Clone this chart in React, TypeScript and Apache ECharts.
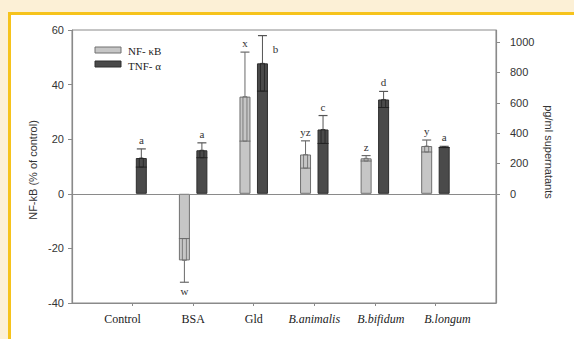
import React, { useEffect, useRef } from "react";
import * as echarts from "echarts";

const categories = ["Control", "BSA", "Gld", "B.animalis", "B.bifidum", "B.longum"];
const italicCats = ["B.animalis", "B.bifidum", "B.longum"];
const nfkb = [0, -24.4, 35.6, 14.4, 13, 17.5];
const nfkbErr = [0, 8, 16.3, 5, 1, 2.2];
const nfkbLetters = ["", "w", "x", "yz", "z", "y"];
const tnf = [236, 287, 860, 424, 622, 309];
const tnfErr = [60, 49, 183, 92, 53, 4];
const tnfLetters = ["a", "a", "b", "c", "d", "a"];
const leftTicks = [-40, -20, 0, 20, 40, 60];
const rightTicks = [0, 200, 400, 600, 800, 1000];

const LIGHT = "#c6c6c6";
const DARK = "#4a4a4a";
const BAR_W = 11;
const OFFSET = 8.75;
const GRID_TOP = 30;
const SANS = "'Liberation Sans', Arial, sans-serif";
const SERIF = "'Liberation Serif', serif";
// horizontal label nudges (px) as in the original figure
const labelShift: Record<string, number> = { Control: -10, "B.bifidum": 6, "B.longum": 12 };

function errorSeries(
  name: string,
  vals: number[],
  errs: number[],
  letters: string[],
  yAxisIndex: number,
  offset: number,
  color: string,
  innerColor: string
) {
  return {
    type: "custom",
    name,
    xAxisIndex: 0,
    yAxisIndex,
    silent: true,
    z: 5,
    data: vals.map((v, i) => [i + 1, v, errs[i]]),
    renderItem: (params: any, api: any) => {
      const idx = api.value(0);
      const mean = api.value(1);
      const err = api.value(2);
      const i = params.dataIndex;
      const letter = letters[i];
      const d = mean >= 0 ? 1 : -1;
      const pMean = api.coord([idx, mean]);
      const cx = pMean[0] + offset;
      const children: any[] = [];
      let labelY = pMean[1];
      if (err > 0 && mean !== 0) {
        const pCap = api.coord([idx, mean + d * err]);
        const pIn = api.coord([idx, mean - d * err]);
        labelY = pCap[1];
        children.push({
          type: "line",
          shape: { x1: cx, y1: pMean[1], x2: cx, y2: pCap[1] },
          style: { stroke: color, lineWidth: 1 },
        });
        children.push({
          type: "line",
          shape: { x1: cx - 4.5, y1: pCap[1], x2: cx + 4.5, y2: pCap[1] },
          style: { stroke: color, lineWidth: 1.2 },
        });
        const top = Math.min(pIn[1], pMean[1]);
        const h = Math.abs(pIn[1] - pMean[1]);
        children.push({
          type: "rect",
          shape: { x: cx - 2, y: top, width: 4, height: h },
          style: { fill: "none", stroke: innerColor, lineWidth: 0.8 },
        });
        children.push({
          type: "line",
          shape: { x1: cx - BAR_W / 2, y1: pIn[1], x2: cx + BAR_W / 2, y2: pIn[1] },
          style: { stroke: innerColor, lineWidth: 1 },
        });
      }
      if (letter) {
        let lx = cx;
        let ly = labelY - d * 9;
        if (ly < GRID_TOP + 8) {
          lx = cx + 13;
          ly = labelY + 13;
        }
        children.push({
          type: "text",
          x: lx,
          y: ly,
          style: {
            text: letter,
            fill: "#333",
            font: `11px ${SERIF}`,
            align: "center",
            verticalAlign: "middle",
          },
        });
      }
      return { type: "group", children };
    },
  };
}

export default function App() {
  const ref = useRef<HTMLDivElement>(null);
  useEffect(() => {
    if (!ref.current) return;
    const chart = echarts.init(ref.current, null, { renderer: "svg" });
    const xData = ["", ...categories, ""];
    const pad = (a: number[]) => [
      null,
      ...a.map((v) => (v === 0 ? { value: 0, itemStyle: { borderWidth: 0, opacity: 0 } } : v)),
      null,
    ];
    const axisLineStyle = { color: "#8a8a8a", width: 1.2 };
    const labelStyle = (italic: boolean, shift: number) => ({
      fontStyle: italic ? "italic" : "normal",
      fontWeight: "normal",
      fontFamily: SERIF,
      fontSize: 12,
      color: "#222",
      padding: shift >= 0 ? [0, 0, 0, 2 * shift] : [0, -2 * shift, 0, 0],
    });
    const rich: Record<string, any> = {};
    categories.forEach((c, i) => {
      rich["c" + i] = labelStyle(italicCats.includes(c), labelShift[c] || 0);
    });
    chart.setOption({
      animation: false,
      backgroundColor: "transparent",
      grid: {
        left: 72,
        right: 78,
        top: GRID_TOP,
        bottom: 36,
        show: true,
        borderColor: "#8a8a8a",
        borderWidth: 1,
        backgroundColor: "transparent",
        containLabel: false,
      },
      xAxis: {
        type: "category",
        data: xData,
        boundaryGap: false,
        axisLine: { show: true, onZero: false, lineStyle: axisLineStyle },
        axisTick: {
          show: true,
          length: 3,
          interval: (index: number) => index > 0 && index < xData.length - 1,
          lineStyle: { color: "#8a8a8a" },
        },
        axisLabel: {
          interval: 0,
          margin: 10,
          color: "#222",
          fontFamily: SERIF,
          fontSize: 12,
          fontWeight: "normal",
          formatter: (v: string) => {
            const i = categories.indexOf(v);
            return i < 0 ? "" : `{c${i}|${v}}`;
          },
          rich,
        },
        splitLine: { show: false },
      },
      yAxis: [
        {
          type: "value",
          position: "left",
          min: -40,
          max: 60,
          interval: 20,
          axisLine: { show: true, lineStyle: axisLineStyle },
          axisTick: { show: true, length: 4, lineStyle: { color: "#8a8a8a" }, customValues: leftTicks },
          axisLabel: {
            margin: 8,
            color: "#333",
            fontFamily: SANS,
            fontSize: 11,
            customValues: leftTicks,
            formatter: (v: number) => String(v),
          },
          splitLine: { show: false },
        },
        {
          type: "value",
          position: "right",
          min: -720,
          max: 1080,
          axisLine: { show: true, lineStyle: axisLineStyle },
          axisTick: { show: true, length: 4, lineStyle: { color: "#8a8a8a" }, customValues: rightTicks },
          axisLabel: {
            margin: 14,
            color: "#333",
            fontFamily: SANS,
            fontSize: 11,
            customValues: rightTicks,
            formatter: (v: number) => String(v),
          },
          splitLine: { show: false },
        },
      ],
      series: [
        {
          type: "bar",
          name: "NF- κB",
          yAxisIndex: 0,
          data: pad(nfkb),
          barWidth: BAR_W,
          barGap: "59%",
          itemStyle: { color: LIGHT, borderColor: "#707070", borderWidth: 1 },
          markLine: {
            silent: true,
            symbol: "none",
            label: { show: false },
            lineStyle: { color: "#8a8a8a", type: "solid", width: 1.2 },
            data: [{ yAxis: 0 }],
          },
        },
        {
          type: "bar",
          name: "TNF- α",
          yAxisIndex: 1,
          data: pad(tnf),
          barWidth: BAR_W,
          barGap: "59%",
          itemStyle: { color: DARK, borderColor: "#2e2e2e", borderWidth: 1 },
        },
        errorSeries("nfErr", nfkb, nfkbErr, nfkbLetters, 0, -OFFSET, "#6a6a6a", "#6a6a6a"),
        errorSeries("tnfErr", tnf, tnfErr, tnfLetters, 1, OFFSET, "#555", "#222"),
      ],
      graphic: [
        {
          type: "rect",
          shape: { x: 95, y: 47, width: 26, height: 6 },
          style: { fill: LIGHT, stroke: "#707070", lineWidth: 1 },
        },
        {
          type: "text",
          x: 128,
          y: 51,
          style: {
            text: "NF- κB",
            fill: "#222",
            font: `11px ${SERIF}`,
            verticalAlign: "middle",
          },
        },
        {
          type: "rect",
          shape: { x: 95, y: 61, width: 26, height: 6 },
          style: { fill: DARK, stroke: "#2e2e2e", lineWidth: 1 },
        },
        {
          type: "text",
          x: 128,
          y: 66,
          style: {
            text: "TNF- α",
            fill: "#222",
            font: `11px ${SERIF}`,
            verticalAlign: "middle",
          },
        },
        {
          type: "text",
          x: 33,
          y: 170,
          rotation: Math.PI / 2,
          style: {
            text: "NF-kB (% of control)",
            fill: "#333",
            font: `11px ${SANS}`,
            align: "center",
            verticalAlign: "middle",
          },
        },
        {
          type: "text",
          x: 549,
          y: 152,
          rotation: -Math.PI / 2,
          style: {
            text: "pg/ml supernatants",
            fill: "#333",
            font: `11px ${SANS}`,
            align: "center",
            verticalAlign: "middle",
          },
        },
      ],
    });
    return () => chart.dispose();
  }, []);

  return (
    <div style={{ position: "fixed", left: 0, top: 0, width: 574, height: 339, background: "#fcf0d6", overflow: "hidden" }}>
      <div style={{ position: "absolute", left: 8, top: 12, width: 566, height: 327, background: "#f6c31c" }} />
      <div style={{ position: "absolute", left: 11, top: 15, width: 563, height: 324, background: "#ffffff" }} />
      <div ref={ref} style={{ position: "absolute", left: 0, top: 0, width: 574, height: 339 }} />
    </div>
  );
}
